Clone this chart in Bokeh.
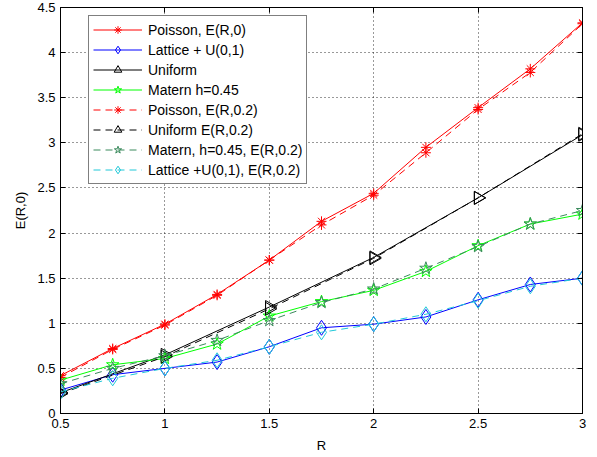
import math
from bokeh.plotting import figure
from bokeh.models import Range1d, FixedTicker, Legend, LegendItem, LinearAxis
from bokeh.embed import file_html
from bokeh.resources import INLINE

# ---- data ----
r = [0.5, 0.75, 1.0, 1.25, 1.5, 1.75, 2.0, 2.25, 2.5, 2.75, 3.0]
r_uniform = [0.5, 1.0, 1.5, 2.0, 2.5, 3.0]
poisson_0 = [0.42, 0.72, 0.99, 1.32, 1.70, 2.13, 2.44, 2.95, 3.39, 3.82, 4.33]
lattice_0 = [0.26, 0.43, 0.50, 0.57, 0.74, 0.95, 0.99, 1.07, 1.26, 1.43, 1.50]
uniform_0 = [0.23, 0.65, 1.18, 1.73, 2.39, 3.09]
matern_0 = [0.37, 0.54, 0.61, 0.77, 1.08, 1.24, 1.365, 1.575, 1.86, 2.10, 2.21]
poisson_02 = [0.40, 0.71, 0.98, 1.31, 1.70, 2.09, 2.42, 2.89, 3.37, 3.78, 4.32]
uniform_02 = [0.22, 0.63, 1.16, 1.72, 2.39, 3.10]
matern_02 = [0.33, 0.50, 0.64, 0.81, 1.03, 1.23, 1.38, 1.61, 1.85, 2.10, 2.25]
lattice_02 = [0.24, 0.39, 0.50, 0.59, 0.74, 0.90, 0.99, 1.10, 1.25, 1.41, 1.50]

x_ticks = [0.5, 1.0, 1.5, 2.0, 2.5, 3.0]
x_tick_labels = ["0.5", "1", "1.5", "2", "2.5", "3"]
y_ticks = [0, 0.5, 1, 1.5, 2, 2.5, 3, 3.5, 4, 4.5]
y_tick_labels = ["0", "0.5", "1", "1.5", "2", "2.5", "3", "3.5", "4", "4.5"]

FONT = "Liberation Sans"

p = figure(frame_width=522, frame_height=406, output_backend="svg",
           toolbar_location=None, x_range=Range1d(0.5, 3.0), y_range=Range1d(0, 4.5),
           min_border_left=60, min_border_top=7, min_border_right=8, min_border_bottom=10)
p.background_fill_color = "white"
p.outline_line_color = "black"
p.outline_line_width = 1

for ax, ticks, labels in ((p.xaxis[0], x_ticks, x_tick_labels), (p.yaxis[0], y_ticks, y_tick_labels)):
    ax.ticker = FixedTicker(ticks=ticks)
    ax.major_label_overrides = {t: l for t, l in zip(ticks, labels)}
    ax.major_tick_in = 5
    ax.major_tick_out = 0
    ax.minor_tick_line_color = None
    ax.axis_line_color = "black"
    ax.major_label_text_font = FONT
    ax.major_label_text_font_size = "13px"
    ax.major_label_text_color = "black"
    ax.axis_label_text_font = FONT
    ax.axis_label_text_font_size = "13px"
    ax.axis_label_text_font_style = "normal"
    ax.axis_label_text_color = "black"
    ax.major_label_standoff = 5

p.xaxis.axis_label = "R"
p.yaxis.axis_label = "E(R,0)"
p.xaxis.axis_label_standoff = 7
p.yaxis.axis_label_standoff = 6

# inward ticks on the top and right edges (no labels)
for loc, ticks in (("above", x_ticks), ("right", y_ticks)):
    ax2 = LinearAxis(ticker=FixedTicker(ticks=ticks),
                     major_label_overrides={t: "" for t in ticks},
                     major_tick_in=5, major_tick_out=0, minor_tick_line_color=None,
                     major_label_standoff=0, axis_line_color="black",
                     major_label_text_font_size="1px")
    p.add_layout(ax2, loc)

for g in (p.xgrid[0], p.ygrid[0]):
    g.grid_line_color = "black"
    g.grid_line_dash = "1 3"
    g.grid_line_width = 1
    g.grid_line_alpha = 0.8
p.xgrid.ticker = FixedTicker(ticks=x_ticks)
p.ygrid.ticker = FixedTicker(ticks=y_ticks)

series = [
    ("Poisson, E(R,0)", r, poisson_0, "#ff0000", "solid", "asterisk", 10, 0),
    ("Lattice + U(0,1)", r, lattice_0, "#0000ff", "solid", "diamond", 15, 0),
    ("Uniform", r_uniform, uniform_0, "#000000", "solid", "triangle", 13, -math.pi / 2),
    ("Matern h=0.45", r, matern_0, "#00ff00", "solid", "star", 13, 0),
    ("Poisson, E(R,0.2)", r, poisson_02, "#ff0000", "7 5", "asterisk", 10, 0),
    ("Uniform E(R,0.2)", r_uniform, uniform_02, "#000000", "7 5", "triangle", 13, -math.pi / 2),
    ("Matern, h=0.45, E(R,0.2)", r, matern_02, "#3a8a5c", "7 5", "star", 13, 0),
    ("Lattice +U(0,1), E(R,0.2)", r, lattice_02, "#20c8d8", "7 5", "diamond", 15, 0),
]

items = []
for label, xs, ys, color, dash, marker, size, angle in series:
    ln = p.line(xs, ys, line_color=color, line_width=1, line_dash=dash)
    sc = p.scatter(xs, ys, marker=marker, size=size, angle=angle, line_color=color,
                   fill_alpha=0, line_width=1)
    items.append(LegendItem(label=label, renderers=[ln, sc]))

legend = Legend(items=items, location=(28, 229))
legend.label_text_font = FONT
legend.label_text_font_size = "14px"
legend.label_text_color = "black"
legend.glyph_width = 49
legend.glyph_height = 19
legend.label_height = 19
legend.spacing = 1
legend.padding = 4
legend.label_standoff = 6
legend.border_line_color = "black"
legend.border_line_width = 1
legend.background_fill_color = "white"
legend.background_fill_alpha = 1
p.add_layout(legend, "center")

open("out.html", "w").write(file_html(p, INLINE))
